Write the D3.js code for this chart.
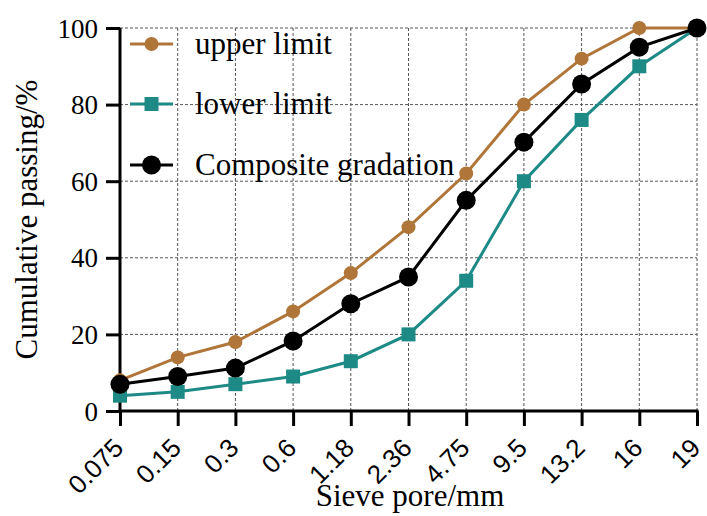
<!DOCTYPE html>
<html>
<head>
<meta charset="utf-8">
<script src="https://cdn.jsdelivr.net/npm/d3@7"></script>
<style>
  body { margin: 0; background: #fff; }
  svg text { fill: #000; }
</style>
</head>
<body>
<div id="chart"></div>
<script>
const sieves = ['0.075', '0.15', '0.3', '0.6', '1.18', '2.36', '4.75', '9.5', '13.2', '16', '19'];
const upperLimit = [8, 14, 18, 26, 36, 48, 62, 80, 92, 100, 100];
const lowerLimit = [4, 5, 7, 9, 13, 20, 34, 60, 76, 90, 100];
const composite = [7, 9, 11.2, 18.3, 28, 35, 55, 70.2, 85.4, 95, 100];
const yTicks = [0, 20, 40, 60, 80, 100];

const SERIF = '"Liberation Serif", "Times New Roman", serif';
const SANS = '"Liberation Sans", Arial, sans-serif';

const series = [
    { name: 'upper limit', values: upperLimit, color: '#B07538', shape: 'circle', size: 7 },
    { name: 'lower limit', values: lowerLimit, color: '#1E8A86', shape: 'square', size: 7 },
    { name: 'Composite gradation', values: composite, color: '#000000', shape: 'circle', size: 9.5 }
];

const W = 707, H = 516;
const margin = { top: 28, left: 120 };
const width = 697 - margin.left;
const height = 411 - margin.top;

const svg = d3.select('#chart').append('svg')
    .attr('width', W)
    .attr('height', H);

const g = svg.append('g')
    .attr('transform', `translate(${margin.left},${margin.top})`);

const x = d3.scalePoint().domain(sieves).range([0, width]);
const y = d3.scaleLinear().domain([0, 100]).range([height, 0]);

// grid
g.append('g')
    .selectAll('line')
    .data(sieves.slice(1))
    .join('line')
    .attr('x1', d => x(d)).attr('x2', d => x(d))
    .attr('y1', 0).attr('y2', height)
    .attr('stroke', '#555').attr('stroke-width', 1)
    .attr('stroke-dasharray', '3,2');

g.append('g')
    .selectAll('line')
    .data(yTicks.slice(1))
    .join('line')
    .attr('x1', 0).attr('x2', width)
    .attr('y1', d => y(d)).attr('y2', d => y(d))
    .attr('stroke', '#555').attr('stroke-width', 1)
    .attr('stroke-dasharray', '3,2');

// axes
const yAxis = g.append('g')
    .call(d3.axisLeft(y).tickValues(yTicks).tickSize(14).tickPadding(8))
    .attr('font-family', SERIF)
    .attr('font-size', 27);
yAxis.select('.domain').attr('stroke-width', 3).attr('d', `M0,${height + 1.5}V0`);
yAxis.selectAll('.tick line').attr('stroke-width', 3);
yAxis.selectAll('text').attr('dy', '0.34em');

const xAxis = g.append('g')
    .attr('transform', `translate(0,${height})`)
    .call(d3.axisBottom(x).tickSize(15).tickPadding(0))
    .attr('font-family', SANS)
    .attr('font-size', 26);
xAxis.select('.domain').attr('stroke-width', 3).attr('d', `M-1.5,0H${width + 1.5}`);
xAxis.selectAll('.tick line').attr('stroke-width', 3);
xAxis.selectAll('text')
    .attr('text-anchor', 'end')
    .attr('y', null)
    .attr('dy', '0.35em')
    .attr('transform', 'translate(-2,32) rotate(-45)');

// axis titles
svg.append('text')
    .attr('transform', `translate(37,${margin.top + height / 2}) rotate(-90)`)
    .attr('text-anchor', 'middle')
    .attr('font-family', SERIF)
    .attr('font-size', 31)
    .text('Cumulative passing/%');

svg.append('text')
    .attr('x', 410)
    .attr('y', 506)
    .attr('text-anchor', 'middle')
    .attr('font-family', SERIF)
    .attr('font-size', 31)
    .text('Sieve pore/mm');

function drawMarker(sel, s, cx, cy) {
    if (s.shape === 'square') {
        sel.append('rect')
            .attr('x', cx - s.size).attr('y', cy - s.size)
            .attr('width', s.size * 2).attr('height', s.size * 2)
            .attr('fill', s.color);
    } else {
        sel.append('circle')
            .attr('cx', cx).attr('cy', cy).attr('r', s.size)
            .attr('fill', s.color);
    }
}

// lines and markers
const line = d3.line()
    .x((d, i) => x(sieves[i]))
    .y(d => y(d));

series.forEach(s => {
    g.append('path')
        .datum(s.values)
        .attr('d', line)
        .attr('fill', 'none')
        .attr('stroke', s.color)
        .attr('stroke-width', 3);
    const mg = g.append('g');
    s.values.forEach((v, i) => drawMarker(mg, s, x(sieves[i]), y(v)));
});

// legend
const legend = svg.append('g');
const legendY = [44, 104, 165];
series.forEach((s, i) => {
    const row = legend.append('g');
    row.append('line')
        .attr('x1', 130).attr('x2', 173)
        .attr('y1', legendY[i]).attr('y2', legendY[i])
        .attr('stroke', s.color).attr('stroke-width', 3);
    drawMarker(row, s, 151.5, legendY[i]);
    row.append('text')
        .attr('x', 195)
        .attr('y', legendY[i] + 10)
        .attr('font-family', SERIF)
        .attr('font-size', 31)
        .text(s.name);
});
</script>
</body>
</html>
